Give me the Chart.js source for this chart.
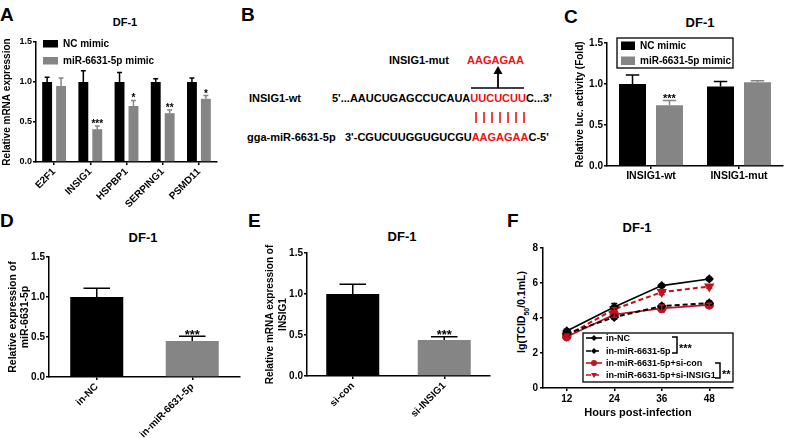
<!DOCTYPE html>
<html>
<head>
<meta charset="utf-8">
<script src="https://cdn.jsdelivr.net/npm/chart.js@4.4.0/dist/chart.umd.min.js"></script>
<style>
  body { margin: 0; background: #fff; }
  #fig { position: relative; width: 794px; height: 438px; overflow: hidden;
         font-family: Arial, "Liberation Sans", sans-serif; font-weight: bold; color: #000; }
  #fig canvas { position: absolute; }
  .t { position: absolute; line-height: 1; white-space: pre; }
  .letter { font-size: 19px; }
  .ttl { font-size: 13px; width: 100px; text-align: center; }
  .seq { font-size: 11px; }
  .red { color: #ee1111; }
</style>
</head>
<body>
<div id="fig">
  <div class="t letter" style="left:0px;top:4.5px">A</div>
  <div class="t letter" style="left:241px;top:4.5px">B</div>
  <div class="t letter" style="left:564px;top:6.5px">C</div>
  <div class="t letter" style="left:0px;top:210.5px">D</div>
  <div class="t letter" style="left:248px;top:210.5px">E</div>
  <div class="t letter" style="left:507px;top:210.5px">F</div>

  <div class="t ttl" style="left:75px;top:16.6px;font-size:11px">DF-1</div>
  <div class="t ttl" style="left:650px;top:16.2px">DF-1</div>
  <div class="t ttl" style="left:93px;top:231.2px">DF-1</div>
  <div class="t ttl" style="left:352px;top:229.7px">DF-1</div>
  <div class="t ttl" style="left:587px;top:221.2px">DF-1</div>

  <!-- panel B: binding site -->
  <div class="t seq" style="left:389px;top:54.6px">INSIG1-mut</div>
  <div class="t seq red" style="left:467px;top:54.6px">AAGAGAA</div>
  <svg style="position:absolute;left:460px;top:60px" width="80" height="35">
    <line x1="11" y1="28" x2="64" y2="28" stroke="#000" stroke-width="1.6"/>
    <line x1="38" y1="28" x2="38" y2="12" stroke="#000" stroke-width="1.8"/>
    <polygon points="33.5,14 42.5,14 38,6" fill="#000"/>
  </svg>
  <div class="t seq" style="left:249px;top:92.6px">INSIG1-wt</div>
  <div class="t seq" style="left:332px;top:92.6px">5'...AAUCUGAGCCUCAUA<span class="red">UUCUCUU</span>C...3'</div>
  <svg style="position:absolute;left:470px;top:110px" width="60" height="16">
    <g stroke="#ee1111" stroke-width="1.6">
      <line x1="6" y1="2" x2="6" y2="13"/><line x1="14" y1="2" x2="14" y2="13"/>
      <line x1="22" y1="2" x2="22" y2="13"/><line x1="30" y1="2" x2="30" y2="13"/>
      <line x1="38" y1="2" x2="38" y2="13"/><line x1="46" y1="2" x2="46" y2="13"/>
      <line x1="54" y1="2" x2="54" y2="13"/>
    </g>
  </svg>
  <div class="t seq" style="left:247px;top:131.6px">gga-miR-6631-5p</div>
  <div class="t seq" style="left:345px;top:131.6px">3'-CGUCUUGGUGUCGU<span class="red">AAGAGAA</span>C-5'</div>

  <div class="t" style="left:523px;top:312px;font-size:10.5px;transform:translate(-50%,-50%) rotate(-90deg)">lg(TCID<sub style="font-size:7px">50</sub>/0.1mL)</div>

  <canvas id="chartA" width="225" height="215" style="left:0px;top:0px"></canvas>
  <canvas id="chartC" width="229" height="215" style="left:565px;top:0px"></canvas>
  <canvas id="chartD" width="250" height="216" style="left:0px;top:222px"></canvas>
  <canvas id="chartE" width="245" height="216" style="left:255px;top:222px"></canvas>
  <canvas id="chartF" width="284" height="216" style="left:510px;top:222px"></canvas>
</div>

<script>
// A: qPCR of candidate targets
const geneLabels = ['E2F1', 'INSIG1', 'HSPBP1', 'SERPING1', 'PSMD11'];
const ncMimic = [1.00, 1.00, 1.00, 1.00, 1.00];
const ncMimicErr = [0.06, 0.14, 0.12, 0.04, 0.05];
const mimic = [0.95, 0.41, 0.70, 0.61, 0.79];
const mimicErr = [0.10, 0.04, 0.07, 0.04, 0.04];
const mimicSig = ['', '***', '*', '**', '*'];

// C: luciferase
const lucLabels = ['INSIG1-wt', 'INSIG1-mut'];
const lucNC = [1.00, 0.97];
const lucNCErr = [0.11, 0.06];
const lucMimic = [0.74, 1.02];
const lucMimicErr = [0.06, 0.02];
const lucSig = ['***', ''];

// D: inhibitor
const inLabels = ['in-NC', 'in-miR-6631-5p'];
const inValues = [1.00, 0.45];
const inErr = [0.11, 0.06];
const inSig = ['', '***'];

// E: siRNA
const siLabels = ['si-con', 'si-INSIG1'];
const siValues = [1.00, 0.44];
const siErr = [0.12, 0.04];
const siSig = ['', '***'];

// F: virus titre
const hours = [12, 24, 36, 48];
const inNC = [3.26, 4.63, 5.85, 6.23];
const inNCErr = [0.10, 0.20, 0.08, 0.08];
const inMiR = [3.10, 4.05, 4.68, 4.85];
const inMiRErr = [0.08, 0.10, 0.10, 0.12];
const siCon = [2.93, 4.20, 4.55, 4.75];
const siConErr = [0.08, 0.15, 0.20, 0.10];
const siINSIG1 = [3.00, 4.50, 5.48, 5.80];
const siINSIG1Err = [0.08, 0.08, 0.15, 0.10];

const FONT = 'Arial, "Liberation Sans", sans-serif';
const BLACK = '#000000';
const GREY = '#858585';
const RED = '#c1121f';

Chart.defaults.font.family = FONT;
Chart.defaults.font.weight = 'bold';
Chart.defaults.color = '#000';
Chart.defaults.animation = false;

// error bars + significance stars
const errorBars = {
  id: 'errorBars',
  afterDatasetsDraw(chart) {
    const ctx = chart.ctx;
    const ys = chart.scales.y;
    chart.data.datasets.forEach((ds, i) => {
      if (!ds.errors) return;
      const meta = chart.getDatasetMeta(i);
      meta.data.forEach((el, j) => {
        const raw = ds.data[j];
        const v = typeof raw === 'object' ? raw.y : raw;
        const e = ds.errors[j];
        const yTop = ys.getPixelForValue(v + e);
        const yBot = ds.bothWays ? ys.getPixelForValue(v - e) : el.y;
        const cap = ds.capWidth || el.width * 0.5;
        ctx.save();
        ctx.setLineDash([]);
        ctx.strokeStyle = ds.borderColor && ds.bothWays ? ds.borderColor : ds.backgroundColor;
        ctx.lineWidth = 1.5;
        ctx.beginPath();
        ctx.moveTo(el.x, yBot);
        ctx.lineTo(el.x, yTop);
        ctx.moveTo(el.x - cap / 2, yTop);
        ctx.lineTo(el.x + cap / 2, yTop);
        if (ds.bothWays) {
          ctx.moveTo(el.x - cap / 2, yBot);
          ctx.lineTo(el.x + cap / 2, yBot);
        }
        ctx.stroke();
        if (ds.sig && ds.sig[j]) {
          const s = ds.sigSize || 10;
          ctx.fillStyle = '#000';
          ctx.font = 'bold ' + s + 'px ' + FONT;
          ctx.textAlign = 'center';
          ctx.textBaseline = 'alphabetic';
          // asterisks sit high in the em box, so push the baseline down
          ctx.fillText(ds.sig[j], el.x, yTop - 3.5 + s * 0.45);
        }
        ctx.restore();
      });
    });
  }
};

// square-swatch legend for the bar panels
const boxLegend = {
  id: 'boxLegend',
  afterDraw(chart, args, o) {
    if (!o || o.dx === undefined) return;
    const ctx = chart.ctx;
    const a = chart.chartArea;
    ctx.save();
    if (o.frame) {
      ctx.strokeStyle = '#000';
      ctx.lineWidth = 1.3;
      ctx.strokeRect(a.left + o.frame[0], a.top + o.frame[1], o.frame[2], o.frame[3]);
    }
    ctx.font = 'bold ' + o.size + 'px ' + FONT;
    ctx.textBaseline = 'middle';
    chart.data.datasets.forEach((ds, i) => {
      const y = a.top + o.dy + i * o.row;
      ctx.fillStyle = ds.backgroundColor;
      ctx.fillRect(a.left + o.dx, y, o.w, o.h);
      ctx.fillStyle = '#000';
      ctx.fillText(ds.label, a.left + o.textDx, y + o.h / 2 + 0.5);
    });
    ctx.restore();
  }
};

function axisStyle() {
  return {
    grid: { drawOnChartArea: false, drawTicks: true, tickLength: 3, color: '#000', lineWidth: 1.5, offset: false },
    border: { color: '#000', width: 1.5 }
  };
}

function makeBar(id, labels, datasets, o) {
  return new Chart(document.getElementById(id), {
    type: 'bar',
    data: { labels: labels, datasets: datasets },
    options: {
      responsive: false,
      layout: { autoPadding: false, padding: { top: o.padTop, right: o.padRight, bottom: 0, left: 0 } },
      datasets: { bar: { categoryPercentage: o.cp, barPercentage: o.bp } },
      plugins: { legend: { display: false }, tooltip: { enabled: false }, boxLegend: o.legend || {} },
      scales: {
        x: Object.assign(axisStyle(), {
          ticks: { font: { size: o.xSize }, maxRotation: o.rot, minRotation: o.rot, padding: 1, autoSkip: false },
          afterFit: s => { s.height = o.xHeight; }
        }),
        y: Object.assign(axisStyle(), {
          min: 0, max: 1.5,
          ticks: { stepSize: 0.5, font: { size: o.ySize }, padding: 1, callback: v => v.toFixed(1) },
          title: { display: true, text: o.yTitle, font: { size: o.titleSize, lineHeight: o.titleLh || 1.2 }, padding: { top: o.titlePad, bottom: 0 } },
          afterFit: s => { s.width = o.yWidth; }
        })
      }
    },
    plugins: [errorBars, boxLegend]
  });
}

// A
makeBar('chartA', geneLabels, [
  { label: 'NC mimic', data: ncMimic, errors: ncMimicErr, backgroundColor: BLACK },
  { label: 'miR-6631-5p mimic', data: mimic, errors: mimicErr, backgroundColor: GREY, sig: mimicSig, sigSize: 10 }
], {
  padTop: 42, padRight: 8, yWidth: 36, xHeight: 53, cp: 0.77, bp: 0.71,
  rot: 45, xSize: 10, ySize: 9, yTitle: 'Relative mRNA expression', titleSize: 10, titlePad: 1.5,
  legend: { dx: 7, dy: -2, row: 17, w: 15, h: 7.5, textDx: 27, size: 10 }
});

// C
makeBar('chartC', lucLabels, [
  { label: 'NC mimic', data: lucNC, errors: lucNCErr, backgroundColor: BLACK },
  { label: 'miR-6631-5p mimic', data: lucMimic, errors: lucMimicErr, backgroundColor: GREY, sig: lucSig, sigSize: 11 }
], {
  padTop: 43, padRight: 11, yWidth: 42, xHeight: 49, cp: 0.84, bp: 0.73,
  rot: 0, xSize: 10.5, ySize: 10, yTitle: 'Relative luc. activity (Fold)', titleSize: 10, titlePad: 9,
  legend: { dx: 14, dy: -1.5, row: 15, w: 14, h: 8.5, textDx: 33, size: 10, frame: [10, -5, 116, 30] }
});

// D
makeBar('chartD', inLabels, [
  { label: 'DF-1', data: inValues, errors: inErr, backgroundColor: [BLACK, GREY], sig: inSig, sigSize: 13 }
], {
  padTop: 35, padRight: 10, yWidth: 49, xHeight: 61, cp: 0.8, bp: 0.694,
  rot: 45, xSize: 10, ySize: 10, yTitle: ['Relative expression of', 'miR-6631-5p'], titleSize: 10.5, titleLh: 1.15, titlePad: 7
});

// E
makeBar('chartE', siLabels, [
  { label: 'DF-1', data: siValues, errors: siErr, backgroundColor: [BLACK, GREY], sig: siSig, sigSize: 13 }
], {
  padTop: 31, padRight: 10, yWidth: 52, xHeight: 62, cp: 0.8, bp: 0.724,
  rot: 45, xSize: 10, ySize: 10, yTitle: ['Relative mRNA expression of', 'INSIG1'], titleSize: 10, titleLh: 1.3, titlePad: 8.5
});

// F legend with brackets
function marker(ctx, style, x, y, r) {
  ctx.beginPath();
  if (style === 'circle') {
    ctx.arc(x, y, r, 0, Math.PI * 2);
  } else if (style === 'rectRot') {
    ctx.moveTo(x, y - r); ctx.lineTo(x + r, y); ctx.lineTo(x, y + r); ctx.lineTo(x - r, y);
  } else {
    ctx.moveTo(x - r, y - r * 0.7); ctx.lineTo(x + r, y - r * 0.7); ctx.lineTo(x, y + r);
  }
  ctx.closePath();
  ctx.fill();
}

const fLegend = {
  id: 'fLegend',
  afterDraw(chart) {
    const ctx = chart.ctx;
    const a = chart.chartArea;
    const x0 = a.left + 40, y0 = a.bottom - 55;
    const rows = [-50, -37, -25, -13];
    ctx.save();
    ctx.fillStyle = '#fff';
    ctx.fillRect(x0, y0, a.right - x0, 49);
    ctx.strokeStyle = '#000';
    ctx.lineWidth = 1.3;
    ctx.strokeRect(x0, y0, a.right - x0, 49);
    ctx.font = 'bold 9px ' + FONT;
    ctx.textBaseline = 'middle';
    chart.data.datasets.forEach((ds, i) => {
      const y = a.bottom + rows[i];
      ctx.strokeStyle = ds.borderColor;
      ctx.fillStyle = ds.borderColor;
      ctx.lineWidth = 1.6;
      ctx.setLineDash(ds.borderDash || []);
      ctx.beginPath();
      ctx.moveTo(x0 + 3, y);
      ctx.lineTo(x0 + 19, y);
      ctx.stroke();
      ctx.setLineDash([]);
      marker(ctx, ds.pointStyle, x0 + 11, y, 3);
      ctx.fillStyle = '#000';
      ctx.fillText(ds.label, x0 + 23, y + 0.5);
    });
    // significance brackets
    ctx.strokeStyle = '#000';
    ctx.lineWidth = 1.5;
    const brackets = [[a.left + 134, a.bottom - 51, a.bottom - 35, '***'], [a.left + 177, a.bottom - 25, a.bottom - 10, '**']];
    brackets.forEach(b => {
      ctx.beginPath();
      ctx.moveTo(b[0] - 5, b[1]); ctx.lineTo(b[0], b[1]); ctx.lineTo(b[0], b[2]); ctx.lineTo(b[0] - 5, b[2]);
      ctx.stroke();
      ctx.font = 'bold 11px ' + FONT;
      ctx.textBaseline = 'alphabetic';
      ctx.fillText(b[3], b[0] + 2, (b[1] + b[2]) / 2 + 7);
    });
    ctx.restore();
  }
};

function pts(vals) { return hours.map((h, i) => ({ x: h, y: vals[i] })); }

new Chart(document.getElementById('chartF'), {
  type: 'line',
  data: {
    datasets: [
      { label: 'in-NC', data: pts(inNC), errors: inNCErr, bothWays: true, capWidth: 6,
        borderColor: BLACK, backgroundColor: BLACK, borderWidth: 1.6, pointStyle: 'rectRot', pointRadius: 3.5 },
      { label: 'in-miR-6631-5p', data: pts(inMiR), errors: inMiRErr, bothWays: true, capWidth: 6,
        borderColor: BLACK, backgroundColor: BLACK, borderWidth: 2, borderDash: [5, 3], pointStyle: 'rectRot', pointRadius: 3.5 },
      { label: 'in-miR-6631-5p+si-con', data: pts(siCon), errors: siConErr, bothWays: true, capWidth: 6,
        borderColor: RED, backgroundColor: RED, borderWidth: 1.6, pointStyle: 'circle', pointRadius: 4 },
      { label: 'in-miR-6631-5p+si-INSIG1', data: pts(siINSIG1), errors: siINSIG1Err, bothWays: true, capWidth: 6,
        borderColor: RED, backgroundColor: RED, borderWidth: 2, borderDash: [5, 3], pointStyle: 'triangle', pointRotation: 180, pointRadius: 4 }
    ]
  },
  options: {
    responsive: false,
    layout: { autoPadding: false, padding: { top: 26, right: 61, bottom: 0, left: 0 } },
    plugins: { legend: { display: false }, tooltip: { enabled: false } },
    scales: {
      x: Object.assign(axisStyle(), {
        type: 'linear', min: 6, max: 54,
        afterBuildTicks: s => { s.ticks = hours.map(h => ({ value: h })); },
        ticks: { font: { size: 10 }, padding: 2 },
        title: { display: true, text: 'Hours post-infection', font: { size: 11 }, padding: { top: 0, bottom: 18 } },
        afterFit: s => { s.height = 50; }
      }),
      y: Object.assign(axisStyle(), {
        min: 0, max: 8,
        ticks: { stepSize: 2, font: { size: 10 }, padding: 2 },
        afterFit: s => { s.width = 33; }
      })
    }
  },
  plugins: [errorBars, fLegend]
});
</script>
</body>
</html>
